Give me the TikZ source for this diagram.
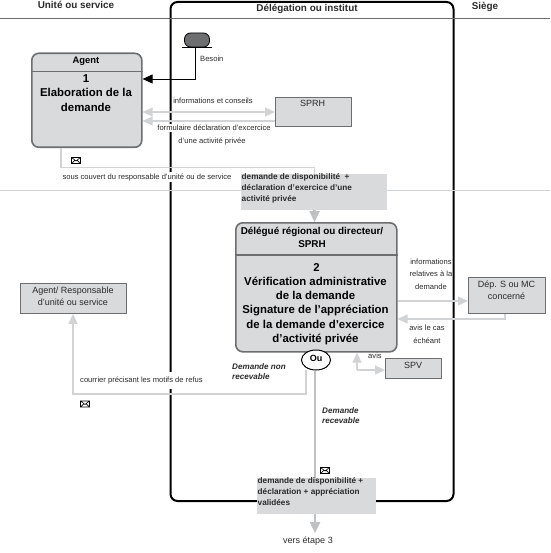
\documentclass[tikz,border=0pt]{standalone}
\usepackage{fontspec}
\setmainfont{Liberation Sans}
\usetikzlibrary{arrows.meta,shapes.geometric,calc}
\definecolor{boxgray}{HTML}{D9DADC}
\definecolor{edgegray}{HTML}{6D6E70}
\definecolor{lightline}{HTML}{D2D3D5}
\definecolor{midline}{HTML}{BFC0C2}
\definecolor{txt}{HTML}{2A2A2A}
\newcommand{\envelope}[1]{\draw[black,line width=.6pt] ($(#1)+(-4.5,-3)$) rectangle ($(#1)+(4.5,3)$) ($(#1)+(-4.5,-3)$) -- ($(#1)+(0,.5)$) -- ($(#1)+(4.5,-3)$) ($(#1)+(-4.5,3)$) -- ($(#1)+(-1,-.3)$) ($(#1)+(4.5,3)$) -- ($(#1)+(1,-.3)$);}
\tikzset{
  x=1pt,y=-1pt,
  lbl/.style={inner sep=0pt,text=txt,font=\fontsize{7.6}{10}\selectfont,align=center},
  boxlbl/.style={inner sep=0pt,text=txt,font=\fontsize{9}{11.6}\selectfont,align=center},
  hdr/.style={inner sep=0pt,text=txt,font=\fontsize{9.9}{11}\bfseries\selectfont},
  mainbox/.style={draw=edgegray,fill=boxgray,line width=1.6pt,rounded corners=7pt,inner sep=0pt,anchor=north west},
  plainbox/.style={draw=edgegray,fill=boxgray,line width=.9pt,inner sep=0pt,anchor=north west},
  docbox/.style={fill=boxgray,inner sep=0pt,anchor=north west},
  boldtxt/.style={inner sep=0pt,text=black,font=\fontsize{11.4}{14.3}\bfseries\selectfont,align=center},
  doctxt/.style={inner sep=0pt,text=txt,font=\fontsize{8.2}{11}\bfseries\selectfont,align=left,anchor=north west},
  ital/.style={inner sep=0pt,text=txt,font=\fontsize{8.1}{10.6}\bfseries\itshape\selectfont,align=left,anchor=north west},
  thinarrow/.style={draw=lightline,line width=1.2pt,-{Triangle[length=10pt,width=9pt,fill=lightline]}},
  bothways/.style={draw=lightline,line width=1.2pt,{Triangle[length=10pt,width=9pt,fill=lightline]}-{Triangle[length=10pt,width=9pt,fill=lightline]}},
  thickarrow/.style={draw=midline,line width=2.4pt,-{Triangle[length=11pt,width=10pt,fill=midline]}},
}
\begin{document}
\begin{tikzpicture}
\useasboundingbox (0,0) rectangle (550,553);
% lane rules
\coordinate (ruleL) at (0,18); \coordinate (ruleR) at (550,18);
\coordinate (sepL) at (0,190.5); \coordinate (sepR) at (550,190.5);
\draw[edgegray,line width=.7pt] (ruleL) -- (ruleR);
% delegation lane
\node[draw=black,line width=2pt,rounded corners=7pt,minimum width=283pt,minimum height=499pt,inner sep=0pt,anchor=north west] (lane) at (169.5,1) {};
\draw[edgegray,line width=1.5pt] (lane.west |- 0,18.5) -- (lane.east |- 0,18.5);
\draw[lightline,line width=.7pt] (sepL) -- (sepR);
\node[hdr] (h1) at (76,5) {Unité ou service};
\node[hdr] (h2) at (307,9) {Délégation ou institut};
\node[hdr] (h3) at (485,7) {Siège};
% nodes
\node[mainbox,minimum width=110pt,minimum height=94pt] (agent) at (31,52.5) {};
\node[mainbox,minimum width=161pt,minimum height=129pt] (deleg) at (235,222) {};
\node[plainbox,minimum width=76pt,minimum height=29pt] (sprh) at (275,97) {};
\node[plainbox,minimum width=77pt,minimum height=36pt] (dep) at (468,277) {};
\node[plainbox,minimum width=56pt,minimum height=20pt] (spv) at (385,358) {};
\node[plainbox,minimum width=106pt,minimum height=30pt] (resp) at (20,283) {};
\node[draw=black,fill=edgegray,line width=.8pt,rounded corners=6pt,minimum width=25pt,minimum height=14pt,inner sep=0pt] (besoin) at (197,40) {};
\coordinate (besL) at (182,47.5); \coordinate (besR) at (212,47.5);
\draw[black,line width=.7pt] (besL) -- (besR);
% dividers
\draw[edgegray,line width=1.6pt] (agent.west |- 0,71.5) -- (agent.east |- 0,71.5);
\draw[edgegray,line width=1.6pt] (deleg.west |- 0,255) -- (deleg.east |- 0,255);
% connectors
\draw[black,line width=.8pt,-{Triangle[length=10pt,width=9pt,fill=black]}] (195,47.5) coordinate (b0) -- (b0 |- 0,79) -- (agent.east |- 0,79);
\draw[bothways] (agent.east |- 0,112) -- (sprh.west |- 0,112);
\draw[thinarrow] (sprh.west |- 0,121) -- (agent.east |- 0,121);
\draw[draw=lightline,line width=1.8pt] (agent.south -| 61,0) -- (61,167.5) -- (314.5,167.5) -- (314.5,176);
\draw[thinarrow] (deleg.east |- 0,301) -- (dep.west |- 0,301);
\draw[thinarrow] (dep.south -| 505,0) -- (505,319) -- (deleg.east |- 0,319);
\draw[thinarrow] (357,370) coordinate (s0) -- (spv.west |- 0,370);
\draw[thinarrow] (s0) -- (deleg.south -| 357,0);
% document boxes
\node[docbox,minimum width=146pt,minimum height=36pt] (doc1) at (241,174) {};
\draw[thickarrow] (doc1.south -| 314.5,0) -- (deleg.north -| 314.5,0);
\node[draw=black,fill=white,line width=1pt,ellipse,minimum width=29pt,minimum height=20pt,inner sep=0pt] (ou) at (316,360) {};
\node[inner sep=0pt,font=\fontsize{9}{10}\bfseries\selectfont] (outxt) at (316,358) {Ou};
\node[docbox,minimum width=119pt,minimum height=36pt] (doc2) at (257,478) {};
\draw[draw=midline,line width=2.4pt] (ou.south -| 315,0) -- (doc2.north -| 315,0);
\coordinate (etape) at (315,533);
\draw[thickarrow] (doc2.south -| 315,0) -- (etape);
% refusal
\node[fill=white,inner sep=1pt,minimum height=17pt,minimum width=8pt] (gap) at (170,380.5) {};
\draw[thinarrow] (306,370) coordinate (r0) -- (306,394) -- (73,394) -- (resp.south -| 73,0);
% texts
\node[inner sep=0pt,text=black,font=\fontsize{9.4}{11}\bfseries\selectfont] (t1) at (86,61.5) {Agent};
\node[boldtxt] (t2) at (86,93) {1\\Elaboration de la\\demande};
\node[lbl,fill=white,inner ysep=1pt,inner xsep=1pt] (t3a) at (214,128) {formulaire déclaration d'excercice};
\node[lbl] (t3b) at (212,141) {d'une activité privée};
\node[lbl,anchor=west] (t4) at (200,59) {Besoin};
\node[lbl] (t5) at (213,101) {informations et conseils};
\node[boxlbl] (t6) at (312.5,103) {SPRH};
\node[lbl,fill=white,inner ysep=1.5pt,inner xsep=1pt] (t7) at (147,177) {sous couvert du responsable d'unité ou de service};
\node[doctxt] (t8) at (241.5,173.5) {demande de disponibilité\ \ +\\déclaration d'exercice d'une\\activité privée};
\node[boldtxt,font=\fontsize{9.9}{13}\bfseries\selectfont] (t9) at (312,237.5) {Délégué régional ou directeur/\\SPRH};
\node[boldtxt] (t10) at (315.5,304) {\rule{0pt}{8pt}\,2\\Vérification administrative\\de la demande\\Signature de l'appréciation\\de la demande d'exercice\\d'activité privée};
\node[lbl] (t11) at (431,274) {informations\\[2.5pt]relatives à la\\[2.5pt]demande};
\node[lbl] (t12) at (427,334.5) {avis le cas\\[3pt]échéant};
\node[boxlbl] (t13) at (506.5,290) {Dép. S ou MC\\concerné};
\node[boxlbl] (t14) at (413,365) {SPV};
\node[lbl] (t15) at (375,355.5) {avis};
\node[boxlbl] (t16) at (73,296) {Agent/ Responsable\\d'unité ou service};
\node[lbl,anchor=west] (t17) at (80,380.5) {courrier précisant les motifs de refus};
\node[ital] (t18) at (232,363) {Demande non\\recevable};
\node[ital] (t19) at (322,407) {Demande\\recevable};
\node[doctxt] (t20) at (257.5,477.5) {demande de disponibilité +\\déclaration + appréciation\\validées};
\node[boxlbl] (t21) at (308,541) {vers étape 3};
\envelope{76,160.5}
\envelope{85,404}
\envelope{325,470.5}
\end{tikzpicture}
\end{document}
